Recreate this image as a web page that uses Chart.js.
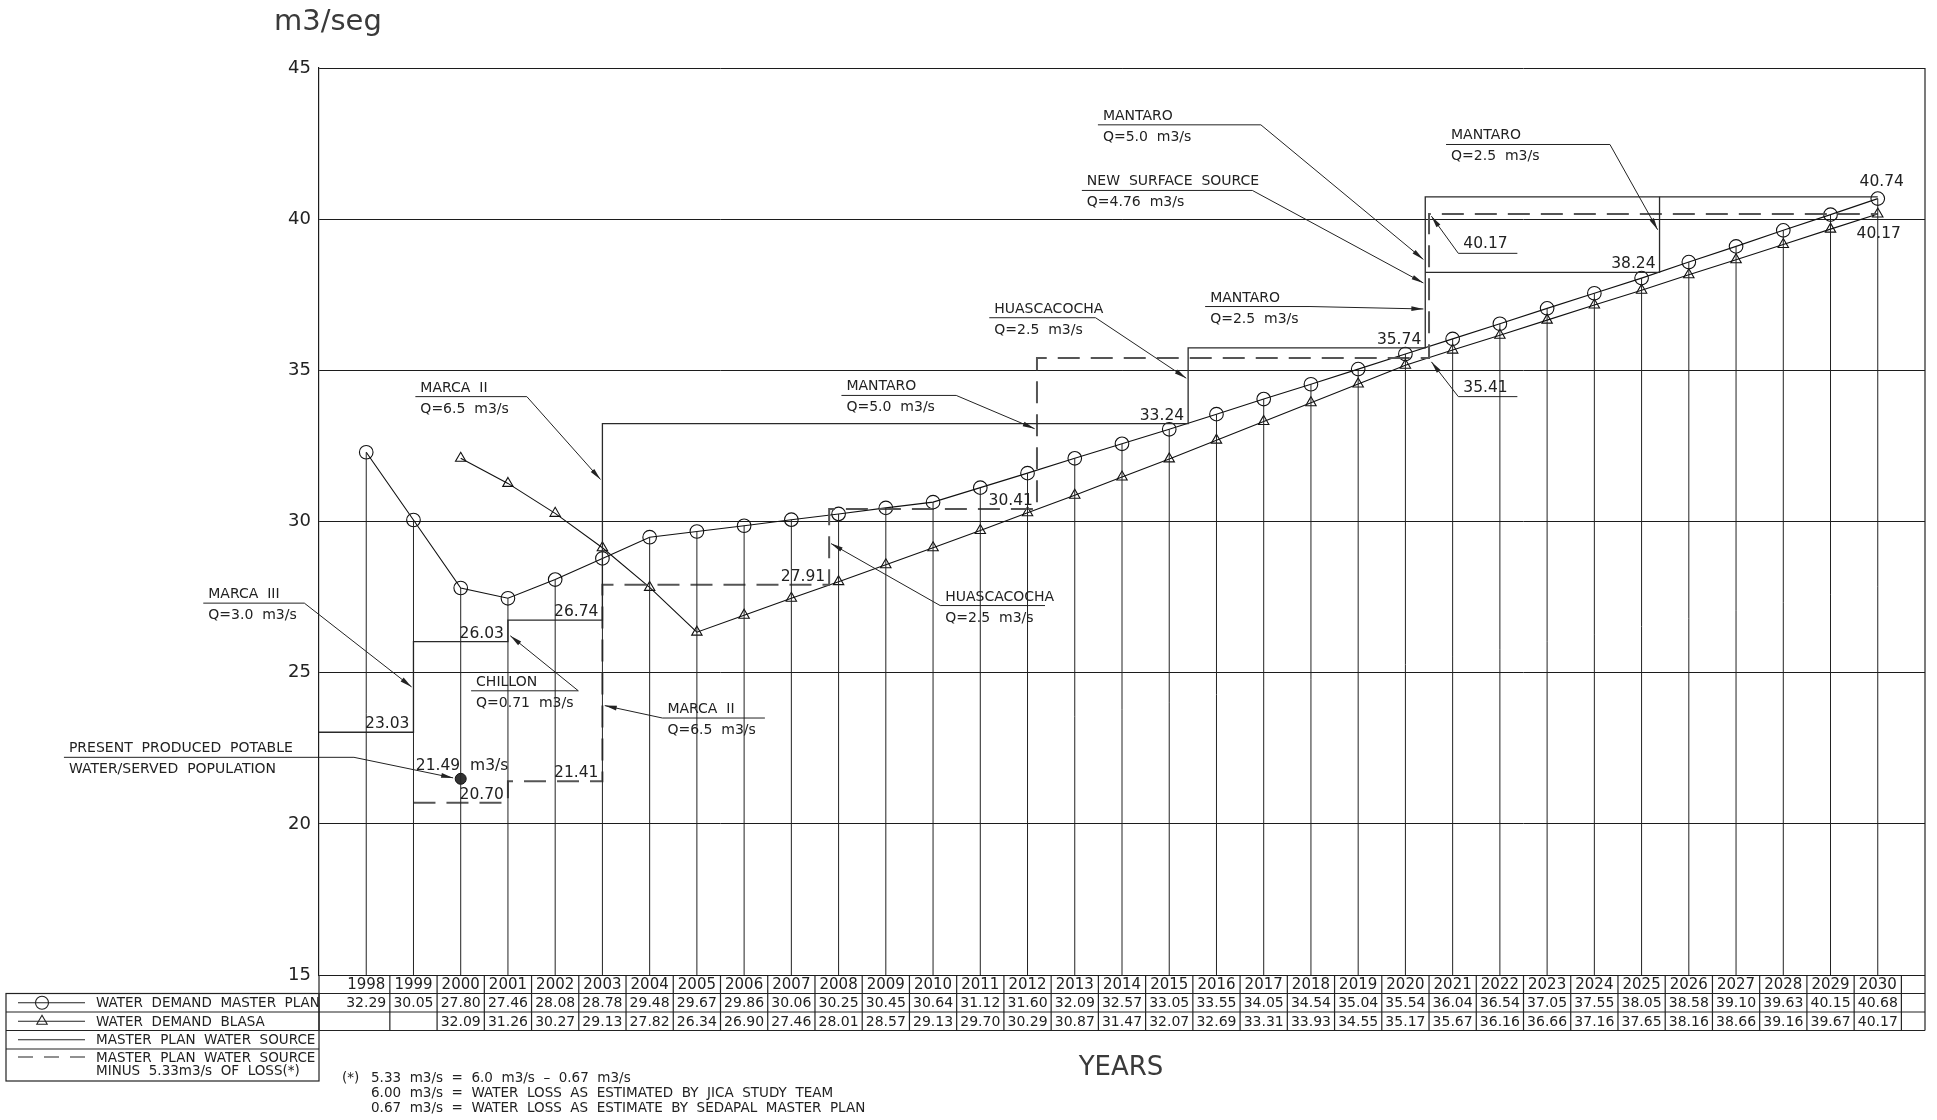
<!DOCTYPE html>
<html>
<head>
<meta charset="utf-8">
<title>Water demand and master plan water source</title>
<script src="https://cdn.jsdelivr.net/npm/chart.js@4.4.1/dist/chart.umd.min.js"></script>
<style>
  html, body { margin: 0; padding: 0; background: #fff; }
  canvas { display: block; }
</style>
</head>
<body>
<canvas id="demandChart" width="1937" height="1120"></canvas>
<script>
// yearly demand, m3/s
const years = [1998, 1999, 2000, 2001, 2002, 2003, 2004, 2005, 2006, 2007, 2008, 2009, 2010,
  2011, 2012, 2013, 2014, 2015, 2016, 2017, 2018, 2019, 2020, 2021, 2022, 2023, 2024, 2025,
  2026, 2027, 2028, 2029, 2030];
const demandMasterPlan = [32.29, 30.05, 27.80, 27.46, 28.08, 28.78, 29.48, 29.67, 29.86, 30.06,
  30.25, 30.45, 30.64, 31.12, 31.60, 32.09, 32.57, 33.05, 33.55, 34.05, 34.54, 35.04, 35.54,
  36.04, 36.54, 37.05, 37.55, 38.05, 38.58, 39.10, 39.63, 40.15, 40.68];
const demandBlasa = [null, null, 32.09, 31.26, 30.27, 29.13, 27.82, 26.34, 26.90, 27.46, 28.01,
  28.57, 29.13, 29.70, 30.29, 30.87, 31.47, 32.07, 32.69, 33.31, 33.93, 34.55, 35.17, 35.67,
  36.16, 36.66, 37.16, 37.65, 38.16, 38.66, 39.16, 39.67, 40.17];

// water source steps: year a level starts, and the level
const sourceStart = [1997, 1999, 2001, 2003, 2015.4, 2020.42];
const sourceLevel = [23.03, 26.03, 26.74, 33.24, 35.74, 40.74];
const altSourceStart = [2020.42, 2025.38];
const altSourceLevel = [38.24, 40.74];
const lossStart = [1999, 2001, 2003, 2007.8, 2012.2, 2020.5];
const lossLevel = [20.70, 21.41, 27.91, 30.41, 35.41, 40.17];
const planEnd = 2030;

const presentYear = 2000;
const presentFlow = 21.49;

const yTicks = [15, 20, 25, 30, 35, 40, 45];

const FONT = "'DejaVu Sans', 'Liberation Sans', sans-serif";
const INK = '#222';

function stepPoints(starts, levels, end) {
  const pts = starts.map((s, i) => ({ x: s, y: levels[i] }));
  if (end !== undefined) pts.push({ x: end, y: levels[levels.length - 1] });
  return pts;
}

// vertical rule from each master plan point down to the axis
const dropLines = [];
years.forEach((yr, i) => {
  dropLines.push({ x: yr, y: yTicks[0] }, { x: yr, y: demandMasterPlan[i] }, { x: yr, y: null });
});

// leader notes: text over/under a short rule, arrow to a point
const callouts = [
  { top: 'MARCA  II', bottom: 'Q=6.5  m3/s', from: 1999.04, to: 2001.40, at: 34.13, tip: [2002.96, 31.39] },
  { top: 'MARCA  III', bottom: 'Q=3.0  m3/s', from: 1994.55, to: 1996.69, at: 27.30, tip: [1998.96, 24.53] },
  { top: 'PRESENT  PRODUCED  POTABLE', bottom: 'WATER/SERVED  POPULATION', from: 1991.60, to: 1997.74, at: 22.20, tip: [1999.84, 21.52] },
  { top: 'CHILLON', bottom: 'Q=0.71  m3/s', from: 2000.22, to: 2002.49, at: 24.40, tip: [2001.05, 26.22] },
  { top: 'MARCA  II', bottom: 'Q=6.5  m3/s', from: 2004.27, to: 2006.44, at: 23.50, tip: [2003.05, 23.91], fromStart: true },
  { top: 'MANTARO', bottom: 'Q=5.0  m3/s', from: 2008.06, to: 2010.49, at: 34.17, tip: [2012.15, 33.07] },
  { top: 'HUASCACOCHA', bottom: 'Q=2.5  m3/s', from: 2011.19, to: 2013.44, at: 36.74, tip: [2015.36, 34.74] },
  { top: 'HUASCACOCHA', bottom: 'Q=2.5  m3/s', from: 2010.15, to: 2012.37, at: 27.22, tip: [2007.84, 29.27], fromStart: true },
  { top: 'MANTARO', bottom: 'Q=2.5  m3/s', from: 2015.76, to: 2017.98, at: 37.11, tip: [2020.38, 37.03] },
  { top: 'NEW  SURFACE  SOURCE', bottom: 'Q=4.76  m3/s', from: 2013.15, to: 2016.76, at: 40.95, tip: [2020.38, 37.89] },
  { top: 'MANTARO', bottom: 'Q=5.0  m3/s', from: 2013.49, to: 2016.94, at: 43.12, tip: [2020.38, 38.67] },
  { top: 'MANTARO', bottom: 'Q=2.5  m3/s', from: 2020.86, to: 2024.33, at: 42.47, tip: [2025.34, 39.65] },
  { top: lossLevel[5].toFixed(2), from: 2021.12, to: 2022.37, at: 38.87, tip: [2020.55, 40.10], fromStart: true, big: true },
  { top: lossLevel[4].toFixed(2), from: 2021.12, to: 2022.37, at: 34.13, tip: [2020.55, 35.28], fromStart: true, big: true }
];

function seg(ctx, x1, y1, x2, y2) {
  ctx.beginPath();
  ctx.moveTo(x1, y1);
  ctx.lineTo(x2, y2);
  ctx.stroke();
}

function arrowTo(ctx, x1, y1, x2, y2) {
  seg(ctx, x1, y1, x2, y2);
  const ang = Math.atan2(y2 - y1, x2 - x1);
  const len = 12, half = 2.4;
  const bx = x2 - len * Math.cos(ang), by = y2 - len * Math.sin(ang);
  ctx.beginPath();
  ctx.moveTo(x2, y2);
  ctx.lineTo(bx + half * Math.sin(ang), by - half * Math.cos(ang));
  ctx.lineTo(bx - half * Math.sin(ang), by + half * Math.cos(ang));
  ctx.closePath();
  ctx.fill();
}

const drafting = {
  id: 'drafting',
  afterDraw(chart) {
    const { ctx, chartArea: a, scales } = chart;
    const px = v => scales.x.getPixelForValue(v);
    const py = v => scales.y.getPixelForValue(v);
    const rowH = 18.5;
    const tTop = a.bottom;
    const tBot = tTop + 3 * rowH;

    ctx.save();
    ctx.fillStyle = INK;
    ctx.strokeStyle = INK;
    ctx.lineWidth = 1.2;

    // right frame down through the table
    seg(ctx, a.right, a.top, a.right, tBot);

    // step levels written above their lines
    ctx.font = `15.5px ${FONT}`;
    ctx.textAlign = 'right';
    ctx.textBaseline = 'alphabetic';
    const stepLabel = (lvl, xEnd) => ctx.fillText(lvl.toFixed(2), px(xEnd) - 4, py(lvl) - 4);
    for (let i = 0; i < sourceLevel.length - 1; i++) stepLabel(sourceLevel[i], sourceStart[i + 1]);
    stepLabel(altSourceLevel[0], altSourceStart[1]);
    for (let i = 0; i < 4; i++) stepLabel(lossLevel[i], lossStart[i + 1]);

    ctx.textAlign = 'center';
    ctx.fillText(sourceLevel[sourceLevel.length - 1].toFixed(2), px(planEnd) + 4, py(sourceLevel[sourceLevel.length - 1]) - 11);
    ctx.fillText(lossLevel[lossLevel.length - 1].toFixed(2), px(planEnd) + 1, py(lossLevel[lossLevel.length - 1]) + 24);
    ctx.textAlign = 'left';
    ctx.fillText(presentFlow.toFixed(2) + '  m3/s', px(presentYear - 0.95), py(presentFlow) - 9);

    // leader notes
    ctx.lineWidth = 1;
    callouts.forEach(c => {
      const x1 = px(c.from), x2 = px(c.to), uy = py(c.at);
      ctx.font = c.big ? `15.5px ${FONT}` : `14px ${FONT}`;
      ctx.textAlign = 'left';
      ctx.fillText(c.top, x1 + 5, uy - 5);
      if (c.bottom) ctx.fillText(c.bottom, x1 + 5, uy + 16);
      seg(ctx, x1, uy, x2, uy);
      arrowTo(ctx, c.fromStart ? x1 : x2, uy, px(c.tip[0]), py(c.tip[1]));
    });

    // data table under the plot
    ctx.lineWidth = 1.2;
    for (let r = 1; r <= 3; r++) seg(ctx, a.left, tTop + r * rowH, a.right, tTop + r * rowH);
    seg(ctx, a.left, tTop, a.left, tBot);
    years.forEach(yr => seg(ctx, px(yr + 0.5), tTop, px(yr + 0.5), tBot));

    ctx.textAlign = 'center';
    ctx.textBaseline = 'middle';
    years.forEach((yr, i) => {
      const cx = px(yr);
      ctx.font = `15px ${FONT}`;
      ctx.fillText(String(yr), cx, tTop + rowH / 2 + 1);
      ctx.font = `14px ${FONT}`;
      ctx.fillText(demandMasterPlan[i].toFixed(2), cx, tTop + 1.5 * rowH + 1);
      if (demandBlasa[i] !== null) ctx.fillText(demandBlasa[i].toFixed(2), cx, tTop + 2.5 * rowH + 1);
    });

    // legend box left of the table
    const lx = 6, lTop = tTop + rowH, lBot = tTop + 4 * rowH + 32;
    ctx.strokeRect(lx, lTop, a.left - lx, lBot - lTop);
    for (let r = 2; r <= 4; r++) seg(ctx, lx, tTop + r * rowH, a.left, tTop + r * rowH);

    const sx1 = 18, sx2 = 85, sc = 42, tx = 96;
    const rowC = r => tTop + (r + 0.5) * rowH;
    ctx.lineWidth = 1.1;
    seg(ctx, sx1, rowC(1), sx2, rowC(1));
    seg(ctx, sx1, rowC(2), sx2, rowC(2));
    seg(ctx, sx1, rowC(3), sx2, rowC(3));
    const open = { radius: 6.5, rotation: 0, borderWidth: 1.1 };
    ctx.save();
    ctx.fillStyle = 'rgba(0,0,0,0)';
    Chart.helpers.drawPoint(ctx, { ...open, pointStyle: 'circle' }, sc, rowC(1));
    Chart.helpers.drawPoint(ctx, { ...open, radius: 6, pointStyle: 'triangle' }, sc, rowC(2));
    ctx.restore();
    const dashY = tTop + 4 * rowH + 8;
    ctx.setLineDash([15, 11]);
    seg(ctx, sx1, dashY, sx2 + 2, dashY);
    ctx.setLineDash([]);

    ctx.font = `13.5px ${FONT}`;
    ctx.textAlign = 'left';
    ctx.fillText('WATER  DEMAND  MASTER  PLAN', tx, rowC(1) + 1);
    ctx.fillText('WATER  DEMAND  BLASA', tx, rowC(2) + 1);
    ctx.fillText('MASTER  PLAN  WATER  SOURCE', tx, rowC(3) + 1);
    ctx.fillText('MASTER  PLAN  WATER  SOURCE', tx, dashY + 1);
    ctx.fillText('MINUS  5.33m3/s  OF  LOSS(*)', tx, dashY + 14);

    // footnote
    ctx.font = `13.5px ${FONT}`;
    ctx.fillText('(*)', 342, 1078);
    ctx.fillText('5.33  m3/s  =  6.0  m3/s  \u2013  0.67  m3/s', 371, 1078);
    ctx.fillText('6.00  m3/s  =  WATER  LOSS  AS  ESTIMATED  BY  JICA  STUDY  TEAM', 371, 1093);
    ctx.fillText('0.67  m3/s  =  WATER  LOSS  AS  ESTIMATE  BY  SEDAPAL  MASTER  PLAN', 371, 1108);

    // axis titles
    ctx.fillStyle = '#3a3a3a';
    ctx.font = `29px ${FONT}`;
    ctx.fillText('m3/seg', 274, 22);
    ctx.textAlign = 'center';
    ctx.font = `26px ${FONT}`;
    ctx.fillText('YEARS', 1121, 1068);

    ctx.restore();
  }
};

const ctx = document.getElementById('demandChart').getContext('2d');
new Chart(ctx, {
  type: 'line',
  data: {
    datasets: [
      {
        label: 'drop lines',
        data: dropLines,
        borderColor: '#222',
        borderWidth: 1,
        pointRadius: 0,
        spanGaps: false
      },
      {
        label: 'MASTER PLAN WATER SOURCE',
        data: stepPoints(sourceStart, sourceLevel, planEnd),
        stepped: 'before',
        borderColor: '#2a2a2a',
        borderWidth: 1.3,
        pointRadius: 0
      },
      {
        label: 'MASTER PLAN WATER SOURCE (2.5 + 2.5)',
        data: stepPoints(altSourceStart, altSourceLevel),
        stepped: 'before',
        borderColor: '#2a2a2a',
        borderWidth: 1.3,
        pointRadius: 0
      },
      {
        label: 'MASTER PLAN WATER SOURCE MINUS 5.33m3/s OF LOSS(*)',
        data: stepPoints(lossStart, lossLevel, planEnd),
        stepped: 'before',
        borderColor: '#555',
        borderWidth: 2,
        borderDash: [22, 11],
        pointRadius: 0
      },
      {
        label: 'WATER DEMAND MASTER PLAN',
        data: years.map((yr, i) => ({ x: yr, y: demandMasterPlan[i] })),
        borderColor: '#111',
        borderWidth: 1.1,
        pointStyle: 'circle',
        pointRadius: 6.8,
        pointBorderWidth: 1.1,
        pointBorderColor: '#111',
        pointBackgroundColor: 'rgba(0,0,0,0)'
      },
      {
        label: 'WATER DEMAND BLASA',
        data: years.map((yr, i) => ({ x: yr, y: demandBlasa[i] })).filter(p => p.y !== null),
        borderColor: '#111',
        borderWidth: 1.1,
        pointStyle: 'triangle',
        pointRadius: 6,
        pointBorderWidth: 1.1,
        pointBorderColor: '#111',
        pointBackgroundColor: 'rgba(0,0,0,0)'
      },
      {
        label: 'PRESENT PRODUCED POTABLE WATER',
        data: [{ x: presentYear, y: presentFlow }],
        showLine: false,
        pointRadius: 5.5,
        pointBackgroundColor: '#333',
        pointBorderColor: '#111',
        pointBorderWidth: 1
      }
    ]
  },
  options: {
    responsive: false,
    animation: false,
    layout: { padding: { top: 68, right: 12, bottom: 145, left: 0 } },
    plugins: {
      legend: { display: false },
      tooltip: { enabled: false }
    },
    scales: {
      x: {
        type: 'linear',
        display: false,
        min: 1997,
        max: 2031
      },
      y: {
        min: yTicks[0],
        max: yTicks[yTicks.length - 1],
        ticks: {
          stepSize: yTicks[1] - yTicks[0],
          padding: 8,
          color: '#222',
          font: { family: FONT, size: 18 }
        },
        grid: { color: '#1c1c1c', lineWidth: 1, drawTicks: false },
        border: { color: '#1c1c1c', width: 1.2 },
        afterFit(scale) { scale.width = 319; }
      }
    }
  },
  plugins: [drafting]
});
</script>
</body>
</html>
